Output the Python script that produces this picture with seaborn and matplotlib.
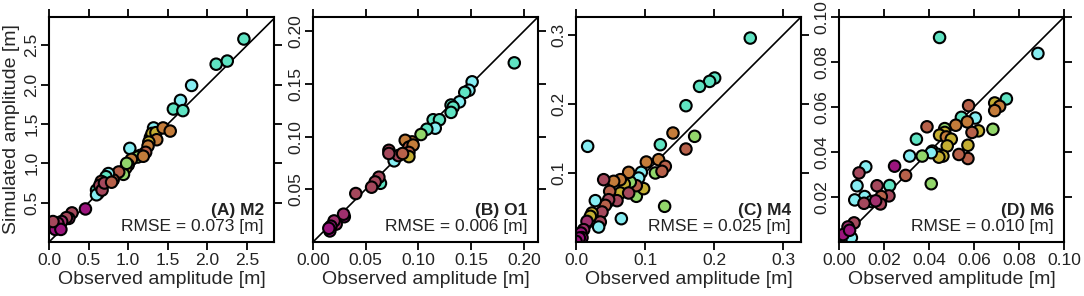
import matplotlib
matplotlib.use("Agg")
import matplotlib.pyplot as plt
import seaborn as sns
import pandas as pd
from matplotlib.ticker import FormatStrFormatter

sns.set_style("ticks")
plt.rcParams['font.family'] = ['Liberation Sans', 'DejaVu Sans']
plt.rcParams['axes.linewidth'] = 1.5

# station colour groups (c=cyan, a=aqua, g=green, o=olive, r=orange, b=brown, m=maroon, p=plum, x=magenta)
palette = {
    'c': '#86EDF2', 'a': '#5FE3C2', 'g': '#92D66A', 'o': '#C4AE32', 'r': '#C47C3A',
    'b': '#B7614A', 'm': '#A5485C', 'p': '#A0306E', 'x': '#9B147D',
}

# (A) M2
obs_m2 = [2.46, 2.11, 2.25, 1.80, 1.66, 1.57, 1.69, 1.32, 1.28, 1.30,
          1.35, 1.44, 1.53, 1.36, 1.26, 1.25, 1.22, 1.15, 1.12, 1.19,
          1.02, 1.04, 1.00, 0.97, 0.94, 0.98, 0.88, 0.81, 0.75, 0.72,
          0.62, 0.60, 0.60, 0.66, 0.64, 0.67, 0.70, 0.79, 0.46, 0.29,
          0.25, 0.22, 0.16, 0.12, 0.11, 0.05, 0.08, 0.15, 0.05]
sim_m2 = [2.58, 2.26, 2.30, 1.99, 1.80, 1.69, 1.67, 1.45, 1.33, 1.38,
          1.39, 1.45, 1.41, 1.30, 1.27, 1.22, 1.14, 1.10, 1.08, 1.09,
          1.19, 1.05, 0.98, 0.94, 0.86, 1.00, 0.89, 0.79, 0.87, 0.83,
          0.62, 0.66, 0.60, 0.77, 0.72, 0.66, 0.75, 0.76, 0.42, 0.37,
          0.30, 0.31, 0.26, 0.20, 0.24, 0.19, 0.16, 0.16, 0.26]
grp_m2 = list("aaaccaacgo" "orrrorbbgr" "crgoggbbca" "aacbmmmbxm" "pmpxpxxxm")

# (B) O1
obs_o1 = [0.191, 0.151, 0.148, 0.144, 0.139, 0.131, 0.133, 0.131, 0.114, 0.120,
          0.116, 0.108, 0.1025, 0.094, 0.0875, 0.091, 0.095, 0.091, 0.091, 0.077,
          0.081, 0.072, 0.072, 0.085, 0.064, 0.0625, 0.059, 0.0556, 0.0406, 0.0297,
          0.029, 0.022, 0.020, 0.017, 0.016, 0.015]
sim_o1 = [0.170, 0.152, 0.144, 0.142, 0.133, 0.130, 0.128, 0.123, 0.116, 0.116,
          0.108, 0.107, 0.102, 0.095, 0.0965, 0.090, 0.092, 0.085, 0.081, 0.077,
          0.082, 0.087, 0.084, 0.084, 0.0557, 0.0615, 0.057, 0.052, 0.046, 0.024,
          0.0264, 0.017, 0.020, 0.015, 0.0105, 0.013]
grp_o1 = list("accacaaaaa" "cagrrbrboc" "mmmbammmmx" "pppxxx")

# (C) M4
obs_m4 = [0.2525, 0.2009, 0.1936, 0.179, 0.1593, 0.1405, 0.1719, 0.1593, 0.1222, 0.0169,
          0.1284, 0.0657, 0.115, 0.1197, 0.1294, 0.1246, 0.0946, 0.0908, 0.1019, 0.0874,
          0.098, 0.0874, 0.0787, 0.0700, 0.0763, 0.0642, 0.0546, 0.0642, 0.0763, 0.0594,
          0.0488, 0.0401, 0.0473, 0.0425, 0.028, 0.0377, 0.0352, 0.0232, 0.0328, 0.0208,
          0.0159, 0.0111, 0.0072, 0.0087, 0.0048, 0.000]
sim_m4 = [0.2955, 0.2376, 0.2327, 0.2255, 0.1975, 0.1579, 0.1531, 0.1347, 0.141, 0.1386,
          0.0517, 0.0338, 0.100, 0.1193, 0.1096, 0.1024, 0.1009, 0.0927, 0.1159, 0.0662,
          0.0773, 0.0816, 0.0869, 0.0840, 0.1009, 0.0903, 0.0879, 0.071, 0.071, 0.0599,
          0.0734, 0.0903, 0.0613, 0.0531, 0.0599, 0.0435, 0.029, 0.042, 0.0217, 0.0372,
          0.0299, 0.0179, 0.013, 0.0063, 0.0058, 0.001]
grp_m4 = list("aaaaargbac" "gcgrbbccrg" "obgorrromm" "bmmbcmmoco" "ppxxxx")

# (D) M6
obs_m6 = [0.0447, 0.0884, 0.0744, 0.0692, 0.0714, 0.0692, 0.0684, 0.0576, 0.0606, 0.0544,
          0.062, 0.0591, 0.057, 0.0573, 0.0573, 0.0519, 0.0533, 0.047, 0.047, 0.0447,
          0.0477, 0.0499, 0.0481, 0.0415, 0.044, 0.0462, 0.0444, 0.0391, 0.0344, 0.041,
          0.037, 0.0314, 0.041, 0.0296, 0.0247, 0.0119, 0.0089, 0.008, 0.0225, 0.0222,
          0.0169, 0.0188, 0.0184, 0.0114, 0.007, 0.0144, 0.0163, 0.0111, 0.0067, 0.004,
          0.0055, 0.0018, 0.0047]
sim_m6 = [0.0909, 0.0838, 0.0636, 0.0618, 0.0603, 0.0584, 0.0501, 0.0606, 0.0551, 0.0554,
          0.0494, 0.0487, 0.0534, 0.043, 0.0371, 0.0519, 0.0389, 0.0504, 0.0487, 0.0475,
          0.0467, 0.0457, 0.0427, 0.0404, 0.0389, 0.0382, 0.0377, 0.0512, 0.0457, 0.0397,
          0.0382, 0.0382, 0.0259, 0.0296, 0.0337, 0.0334, 0.0307, 0.025, 0.0251, 0.0205,
          0.025, 0.0202, 0.0169, 0.0202, 0.0187, 0.018, 0.0183, 0.0172, 0.0085, 0.0067,
          0.0019, 0.0033, 0.0052]
grp_m6 = list("acaorrgbca" "obrobrbgoo" "roocaoobac" "gcgbxcmcam" "mbmcccpmmp" "cxx")

titles = ["(A) M2", "(B) O1", "(C) M4", "(D) M6"]
rmse = ["0.073", "0.006", "0.025", "0.010"]
xlims = [2.84, 0.2135, 0.326, 0.100]
ylims = [2.86, 0.2135, 0.326, 0.100]
xticks = [[0, 0.5, 1.0, 1.5, 2.0, 2.5], [0, 0.05, 0.10, 0.15, 0.20],
          [0, 0.1, 0.2, 0.3], [0, 0.02, 0.04, 0.06, 0.08, 0.10]]
yticks = [[0.5, 1.0, 1.5, 2.0, 2.5], [0.05, 0.10, 0.15, 0.20],
          [0.1, 0.2, 0.3], [0.02, 0.04, 0.06, 0.08, 0.10]]
fmts = ['%.1f', '%.2f', '%.1f', '%.2f']
obs_all = [obs_m2, obs_o1, obs_m4, obs_m6]
sim_all = [sim_m2, sim_o1, sim_m4, sim_m6]
grp_all = [grp_m2, grp_o1, grp_m4, grp_m6]

W, H = 1084, 296
lefts = [49, 313, 576, 839]
fig = plt.figure(figsize=(W / 100, H / 100), dpi=100)

for i in range(4):
    ax = fig.add_axes([lefts[i] / W, (H - 242) / H, 225 / W, 225 / H])
    df = pd.DataFrame({'obs': obs_all[i], 'sim': sim_all[i], 'grp': grp_all[i]})
    ax.axline((0, 0), slope=1, color='black', lw=1.2, zorder=1)
    sns.scatterplot(data=df, x='obs', y='sim', hue='grp', palette=palette, legend=False,
                    s=68, edgecolor='black', linewidth=1.5, ax=ax, zorder=2)
    ax.set_xlim(0, xlims[i])
    ax.set_ylim(0, ylims[i])
    ax.set_xticks(xticks[i])
    ax.set_yticks(yticks[i])
    ax.xaxis.set_major_formatter(FormatStrFormatter(fmts[i]))
    ax.yaxis.set_major_formatter(FormatStrFormatter(fmts[i]))
    ax.tick_params(direction='out', length=5.5, width=1.3, labelsize=12.5, pad=2.5,
                   top=True, right=True, colors='black', labelcolor='#222222')
    ax.tick_params(axis='y', labelrotation=90, pad=1.5)
    for lab in ax.get_yticklabels():
        lab.set_va('center')
    ax.set_xlabel("Observed amplitude [m]", fontsize=14, labelpad=2)
    if i == 0:
        ax.set_ylabel("Simulated amplitude [m]", fontsize=14, labelpad=3)
    else:
        ax.set_ylabel("")
    for sp in ax.spines.values():
        sp.set_visible(True)
        sp.set_color('black')
    ax.text(0.955, 0.14, titles[i], transform=ax.transAxes, ha='right', va='center',
            fontsize=12.5, fontweight='bold', color='#222222')
    ax.text(0.955, 0.07, "RMSE = " + rmse[i] + " [m]", transform=ax.transAxes,
            ha='right', va='center', fontsize=12.5, color='#222222')

fig.savefig("out.png", dpi=100)
